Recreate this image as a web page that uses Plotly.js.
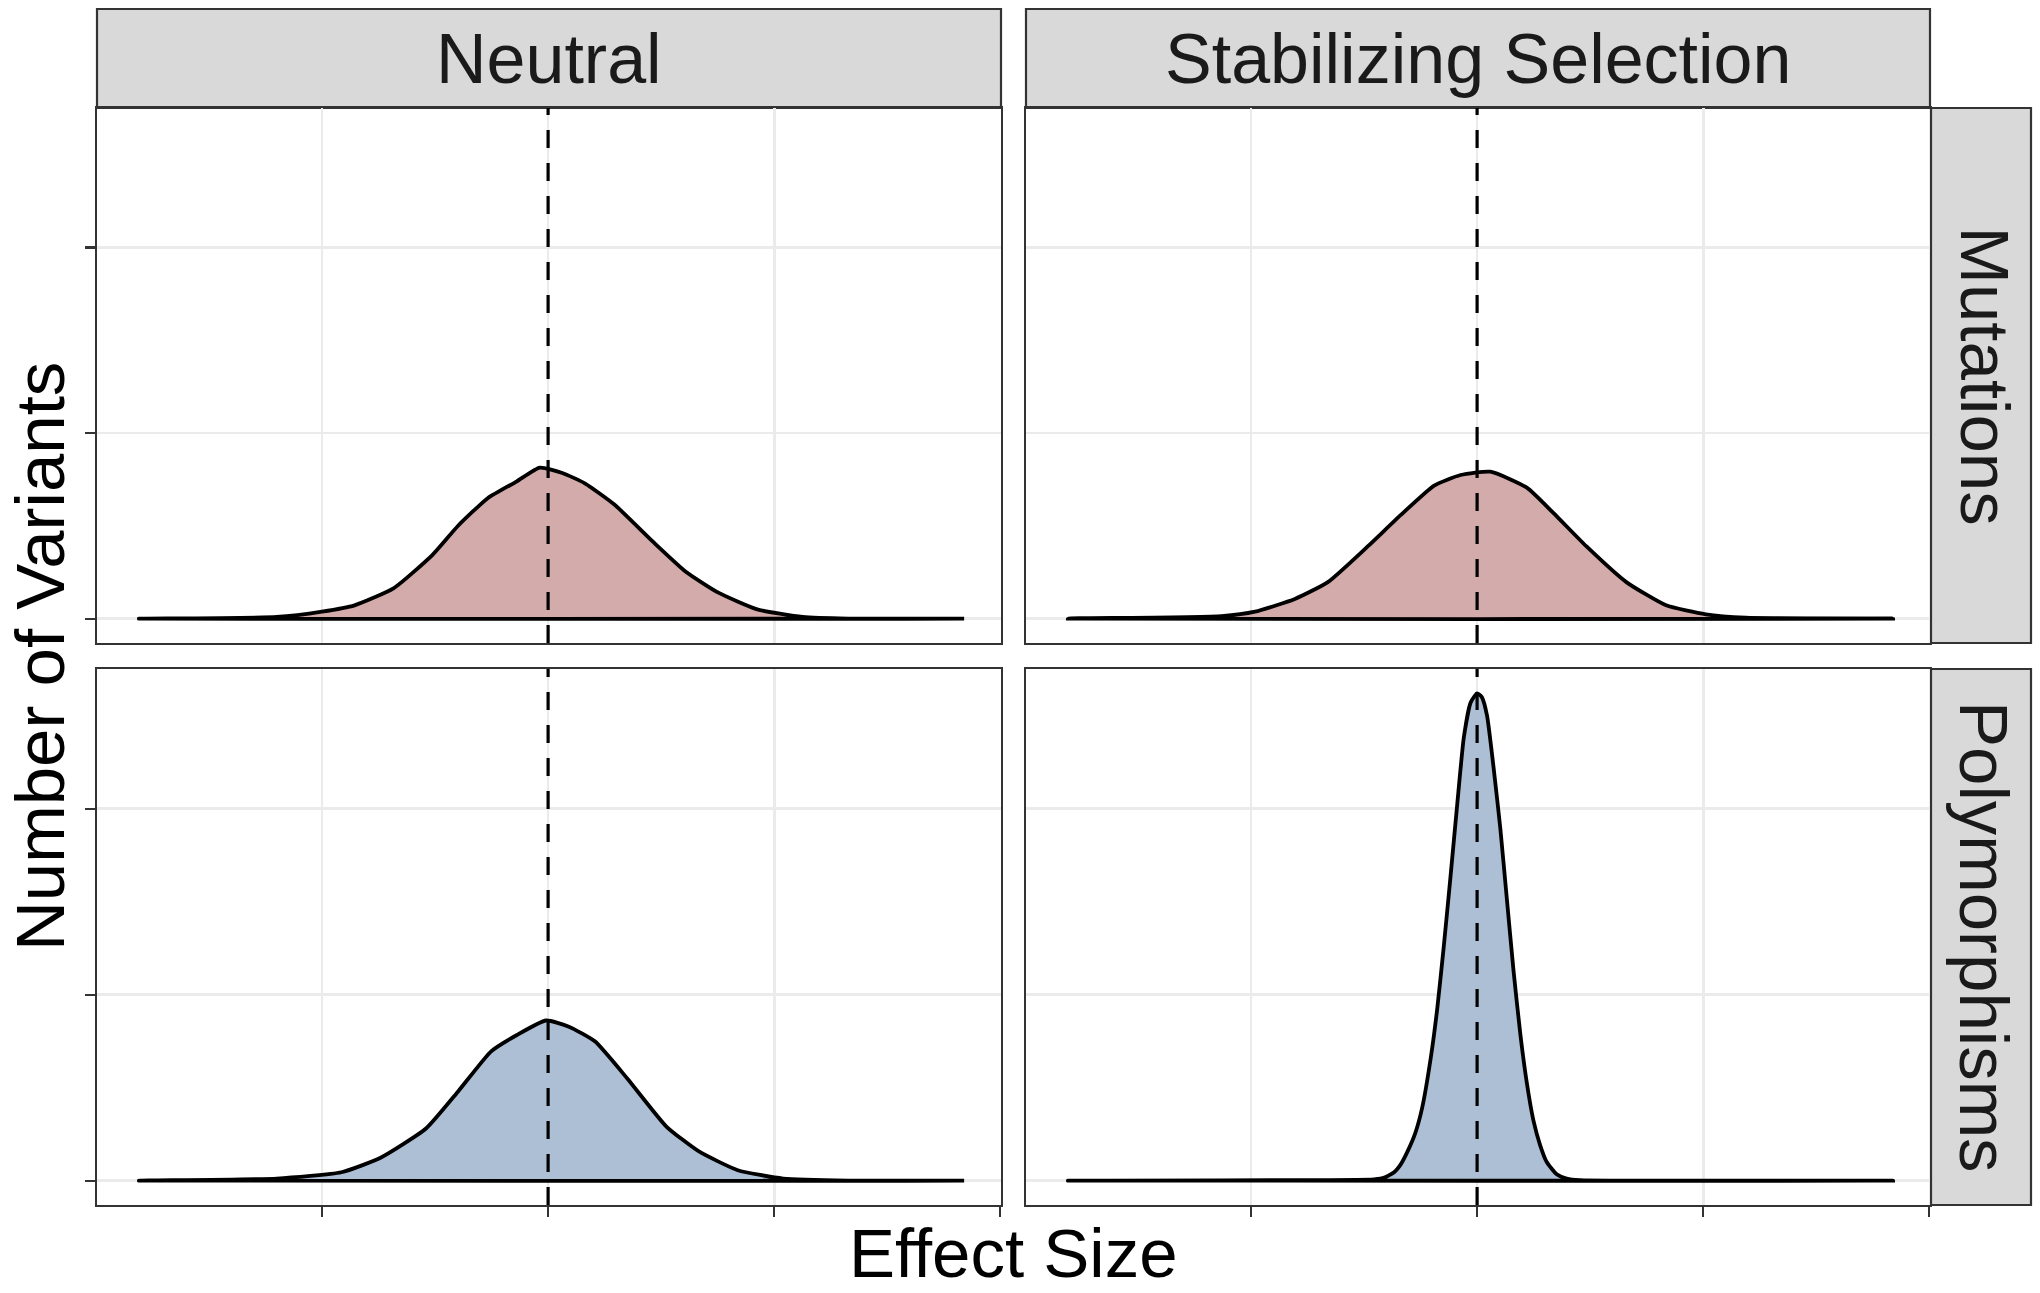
<!DOCTYPE html>
<html>
<head>
<meta charset="utf-8">
<script src="https://cdn.plot.ly/plotly-3.0.1.min.js"></script>
<style>html,body{margin:0;padding:0;background:#fff;}#chart{width:2040px;height:1293px;}</style>
</head>
<body>
<div id="chart"></div>
<script>
// ---- Data (arbitrary units) ----
const columns = ["Neutral", "Stabilizing Selection"];
const rows = ["Mutations", "Polymorphisms"];
const xTicks = [-1, 0, 1, 2];
const yTicks = [0, 1, 2];
const vlineX = 0;

const neutralMutX = [-1.81, -1.20, -1.00, -0.856, -0.684, -0.511, -0.397, -0.267, -0.138, -0.037, 0.063, 0.164, 0.293, 0.466, 0.609, 0.753, 0.925, 1.126, 1.328, 1.84];
const neutralMutY = [0, 0.009, 0.038, 0.072, 0.163, 0.344, 0.502, 0.649, 0.740, 0.814, 0.785, 0.728, 0.615, 0.412, 0.253, 0.140, 0.050, 0.009, 0, 0];

const stabMutX = [-1.81, -1.13, -0.982, -0.806, -0.66, -0.484, -0.337, -0.19, -0.073, 0.059, 0.22, 0.337, 0.484, 0.66, 0.836, 1.012, 1.188, 1.84];
const stabMutY = [0, 0.014, 0.038, 0.106, 0.197, 0.389, 0.559, 0.717, 0.774, 0.792, 0.706, 0.570, 0.389, 0.197, 0.072, 0.023, 0.005, 0];

const neutralPolyX = [-1.81, -1.2, -0.914, -0.741, -0.54, -0.397, -0.253, -0.138, -0.009, 0.092, 0.207, 0.351, 0.523, 0.667, 0.839, 1.04, 1.33, 1.84];
const neutralPolyY = [0, 0.011, 0.045, 0.123, 0.28, 0.481, 0.694, 0.783, 0.861, 0.828, 0.749, 0.548, 0.291, 0.157, 0.056, 0.011, 0, 0];

const stabPolyX = [-1.81, -0.455, -0.41, -0.367, -0.337, -0.308, -0.273, -0.243, -0.205, -0.176, -0.147, -0.117, -0.088, -0.059, -0.029, 0.0, 0.021, 0.044, 0.073, 0.103, 0.132, 0.161, 0.191, 0.22, 0.249, 0.279, 0.308, 0.352, 0.396, 0.455, 1.84];
const stabPolyY = [0, 0.007, 0.016, 0.045, 0.089, 0.156, 0.257, 0.391, 0.659, 0.927, 1.263, 1.642, 2.022, 2.38, 2.57, 2.62, 2.60, 2.50, 2.22, 1.89, 1.51, 1.13, 0.79, 0.525, 0.324, 0.19, 0.10, 0.034, 0.011, 0.002, 0];

const mutColor = "#d4abab";
const polyColor = "#adbfd5";

// ---- Layout geometry ----
const W = 2040, H = 1293;
const px = v => v / W, py = v => 1 - v / H;
const colX = [[97, 1001], [1026, 1930]];
const rowY = [[108, 643], [669, 1205]];
const stripTop = [9, 108];
const stripRight = [1931, 2031];

const xRange = [-1.995, 2.003];
const yRange = [-0.131, 2.751];

function poly(xs, ys, color, xa, ya) {
  return {
    type: "scatter", mode: "lines",
    x: xs.concat([xs[0]]), y: ys.concat([ys[0]]),
    xaxis: xa, yaxis: ya,
    fill: "toself", fillcolor: color,
    line: {color: "#000000", width: 3.8, shape: "spline", smoothing: 0.5},
    hoverinfo: "skip", showlegend: false
  };
}

// panels: top-left x3/y3, top-right x4/y4, bottom-left x/y, bottom-right x2/y2
const data = [
  poly(neutralMutX, neutralMutY, mutColor, "x3", "y3"),
  poly(stabMutX, stabMutY, mutColor, "x4", "y4"),
  poly(neutralPolyX, neutralPolyY, polyColor, "x", "y"),
  poly(stabPolyX, stabPolyY, polyColor, "x2", "y2")
];

function xAxis(col, showTicks, anchor) {
  return {
    domain: [px(colX[col][0]), px(colX[col][1])],
    range: xRange, anchor: anchor,
    tickmode: "array", tickvals: xTicks, showticklabels: false,
    ticks: showTicks ? "outside" : "", ticklen: 10, tickwidth: 2.2, tickcolor: "#333333",
    showgrid: true, gridcolor: "#ebebeb", gridwidth: 2.8, zeroline: false,
    showline: true, mirror: true, linecolor: "#333333", linewidth: 2.2,
    fixedrange: true
  };
}
function yAxis(row, showTicks, anchor) {
  return {
    domain: [py(rowY[row][1]), py(rowY[row][0])],
    range: yRange, anchor: anchor,
    tickmode: "array", tickvals: yTicks, showticklabels: false,
    ticks: showTicks ? "outside" : "", ticklen: 10, tickwidth: 2.2, tickcolor: "#333333",
    showgrid: true, gridcolor: "#ebebeb", gridwidth: 2.8, zeroline: false,
    showline: true, mirror: true, linecolor: "#333333", linewidth: 2.2,
    fixedrange: true
  };
}

const shapes = [];
// strips
for (let c = 0; c < 2; c++) {
  shapes.push({type: "rect", xref: "paper", yref: "paper",
    x0: px(colX[c][0]), x1: px(colX[c][1]), y0: py(stripTop[1]), y1: py(stripTop[0]),
    fillcolor: "#d9d9d9", line: {color: "#333333", width: 2.2}, layer: "below"});
}
for (let r = 0; r < 2; r++) {
  shapes.push({type: "rect", xref: "paper", yref: "paper",
    x0: px(stripRight[0]), x1: px(stripRight[1]), y0: py(rowY[r][1]), y1: py(rowY[r][0]),
    fillcolor: "#d9d9d9", line: {color: "#333333", width: 2.2}, layer: "below"});
}
// dashed reference lines
[["x3","y3"],["x4","y4"],["x","y"],["x2","y2"]].forEach(([xa, ya]) => {
  shapes.push({type: "line", xref: xa, yref: ya + " domain",
    x0: vlineX, x1: vlineX, y0: 0, y1: 1,
    line: {color: "#000000", width: 3.2, dash: "18px,15px"}, layer: "above"});
});

const font = "Liberation Sans, Arial, Helvetica, sans-serif";
const annotations = [];
columns.forEach((t, c) => {
  annotations.push({text: t, xref: "paper", yref: "paper",
    x: px((colX[c][0] + colX[c][1]) / 2), y: py(59), xanchor: "center", yanchor: "middle",
    showarrow: false, font: {family: font, size: 70, color: "#1a1a1a"}});
});
rows.forEach((t, r) => {
  annotations.push({text: t, xref: "paper", yref: "paper",
    x: px((stripRight[0] + stripRight[1]) / 2 + 3), y: py((rowY[r][0] + rowY[r][1]) / 2),
    xanchor: "center", yanchor: "middle", textangle: 90,
    showarrow: false, font: {family: font, size: 69, color: "#1a1a1a"}});
});
annotations.push({text: "Number of Variants", xref: "paper", yref: "paper",
  x: 0, y: py((rowY[0][0] + rowY[1][1]) / 2), xanchor: "left", yanchor: "middle",
  textangle: -90, showarrow: false, font: {family: font, size: 69, color: "#000000"}});
annotations.push({text: "Effect Size", xref: "paper", yref: "paper",
  x: px((colX[0][0] + colX[1][1]) / 2), y: py(1253), xanchor: "center", yanchor: "middle",
  showarrow: false, font: {family: font, size: 69, color: "#000000"}});

const layout = {
  width: W, height: H,
  margin: {l: 0, r: 0, t: 0, b: 0},
  paper_bgcolor: "#ffffff", plot_bgcolor: "#ffffff",
  showlegend: false,
  xaxis: xAxis(0, true, "y"),
  yaxis: yAxis(1, true, "x"),
  xaxis2: xAxis(1, true, "y2"),
  yaxis2: yAxis(1, false, "x2"),
  xaxis3: xAxis(0, false, "y3"),
  yaxis3: yAxis(0, true, "x3"),
  xaxis4: xAxis(1, false, "y4"),
  yaxis4: yAxis(0, false, "x4"),
  shapes: shapes,
  annotations: annotations
};

Plotly.newPlot("chart", data, layout, {displayModeBar: false, staticPlot: true});
</script>
</body>
</html>
